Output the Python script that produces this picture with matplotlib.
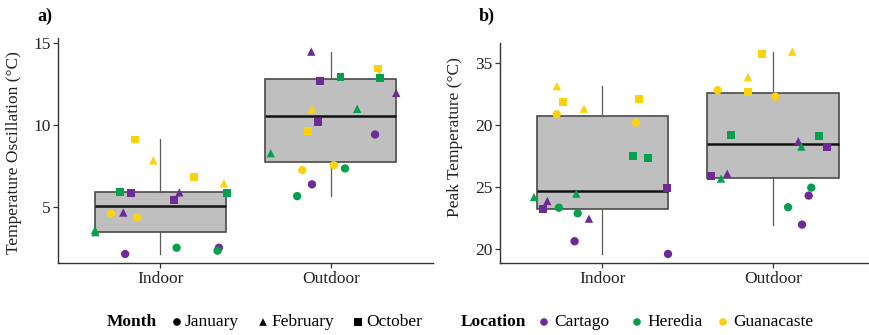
import matplotlib
matplotlib.use("Agg")
import matplotlib.pyplot as plt
import numpy as np

plt.rcParams['font.family'] = ['Liberation Serif', 'DejaVu Serif']

# ---- data -------------------------------------------------------------
categories = ["Indoor", "Outdoor"]
locations = ["Cartago", "Heredia", "Guanacaste"]
months = ["January", "February", "October"]

# panel a: temperature oscillation (°C)
osc_indoor_loc = ["H", "H", "C", "H", "C", "G", "C", "G", "G", "G", "C", "C", "H", "G", "C", "H", "G", "H"]
osc_indoor_mon = ["Feb", "Feb", "Jan", "Oct", "Oct", "Jan", "Feb", "Jan", "Oct", "Feb", "Oct", "Feb", "Jan", "Oct", "Jan", "Jan", "Feb", "Oct"]
osc_indoor_val = [3.58, 3.45, 2.12, 5.92, 5.85, 4.57, 4.65, 4.35, 9.11, 7.83, 5.43, 5.88, 2.50, 6.83, 2.50, 2.32, 6.43, 5.85]
osc_indoor_jit = [-0.383, -0.380, -0.206, -0.236, -0.173, -0.289, -0.217, -0.136, -0.147, -0.041, 0.080, 0.112, 0.096, 0.200, 0.344, 0.336, 0.373, 0.391]

osc_outdoor_loc = ["C", "G", "G", "H", "H", "C", "C", "G", "H", "C", "G", "C", "H", "G", "G", "H", "C", "H"]
osc_outdoor_mon = ["Feb", "Oct", "Feb", "Oct", "Oct", "Oct", "Feb", "Feb", "Feb", "Oct", "Oct", "Jan", "Feb", "Jan", "Jan", "Jan", "Jan", "Jan"]
osc_outdoor_val = [14.47, 13.44, 13.10, 12.93, 12.87, 12.66, 11.95, 10.98, 10.98, 10.15, 9.62, 9.41, 8.27, 7.24, 7.54, 7.34, 6.37, 5.65]
osc_outdoor_jit = [-0.114, 0.276, 0.285, 0.057, 0.289, -0.063, 0.384, -0.110, 0.155, -0.073, -0.134, 0.260, -0.352, -0.167, 0.018, 0.084, -0.110, -0.197]

# panel b: peak temperature (°C)
peak_indoor_loc = ["H", "C", "C", "H", "C", "H", "H", "C", "G", "G", "G", "G", "G", "G", "H", "H", "C", "C"]
peak_indoor_mon = ["Feb", "Oct", "Feb", "Jan", "Jan", "Jan", "Feb", "Feb", "Feb", "Oct", "Jan", "Feb", "Oct", "Jan", "Oct", "Oct", "Oct", "Jan"]
peak_indoor_val = [24.20, 23.24, 23.88, 23.34, 20.64, 22.89, 24.47, 22.46, 33.10, 31.86, 30.85, 31.30, 32.08, 30.18, 27.50, 27.34, 24.95, 19.62]
peak_indoor_jit = [-0.401, -0.347, -0.323, -0.255, -0.163, -0.145, -0.153, -0.079, -0.267, -0.230, -0.268, -0.108, 0.214, 0.196, 0.177, 0.268, 0.376, 0.384]

peak_outdoor_loc = ["G", "G", "G", "G", "G", "G", "H", "H", "C", "H", "C", "C", "C", "H", "H", "C", "H", "C"]
peak_outdoor_mon = ["Oct", "Feb", "Feb", "Jan", "Oct", "Jan", "Oct", "Oct", "Feb", "Feb", "Oct", "Oct", "Feb", "Feb", "Jan", "Jan", "Jan", "Jan"]
peak_outdoor_val = [35.67, 35.88, 33.83, 32.78, 32.67, 32.27, 29.21, 29.11, 28.68, 28.25, 28.25, 25.92, 26.08, 25.68, 24.95, 24.31, 23.38, 21.98]
peak_outdoor_jit = [-0.066, 0.112, -0.148, -0.325, -0.148, 0.012, -0.249, 0.270, 0.147, 0.165, 0.313, -0.366, -0.269, -0.306, 0.223, 0.208, 0.087, 0.169]

peak_ticks = [20, 25, 30, 35]
peak_ticklabels = ["20", "25", "20", "35"]
osc_ticks = [5, 10, 15]

# ---- styles -----------------------------------------------------------
loc_colors = {"C": "#6e2a96", "H": "#05a04e", "G": "#fbd20c"}
mon_markers = {"Jan": "o", "Feb": "^", "Oct": "s"}
mon_sizes = {"Jan": 36, "Feb": 36, "Oct": 32}
SPINE = "#333333"
FS = 12.5


def draw_panel(ax, groups, ylim, yticks, yticklabels, ylabel, xlim):
    data = [g[2] for g in groups]
    bp = ax.boxplot(data, positions=[0, 1], widths=0.77, patch_artist=True,
                    showfliers=False, showcaps=False, whis=1.5, zorder=1)
    for b in bp["boxes"]:
        b.set(facecolor="#bfbfbf", edgecolor="#4a4a4a", linewidth=1.2)
    for w in bp["whiskers"]:
        w.set(color="#5a5a5a", linewidth=0.9)
    for m in bp["medians"]:
        m.set(color="#111111", linewidth=1.8)
    for i, (locs, mons, vals, jit) in enumerate(groups):
        for l, mo, v, j in zip(locs, mons, vals, jit):
            ax.scatter(i + j, v, marker=mon_markers[mo], s=mon_sizes[mo],
                       color=loc_colors[l], edgecolors="none", zorder=3)
    ax.set_xlim(*xlim)
    ax.set_ylim(*ylim)
    ax.set_xticks([0, 1])
    ax.set_xticklabels(categories)
    ax.set_yticks(yticks)
    ax.set_yticklabels(yticklabels)
    ax.set_ylabel(ylabel, fontsize=FS, color="#222222")
    for s in ("top", "right"):
        ax.spines[s].set_visible(False)
    for s in ("left", "bottom"):
        ax.spines[s].set_color(SPINE)
        ax.spines[s].set_linewidth(1.0)
    ax.tick_params(axis="both", length=3.5, width=0.9, color=SPINE,
                   labelsize=FS, labelcolor="#222222", pad=2)
    ax.set_facecolor("none")


fig = plt.figure(figsize=(8.7, 3.35), dpi=100)
W, H = 870, 335

ax_a = fig.add_axes([58 / W, (H - 263) / H, (433 - 58) / W, (263 - 38) / H])
draw_panel(ax_a,
           [(osc_indoor_loc, osc_indoor_mon, osc_indoor_val, osc_indoor_jit),
            (osc_outdoor_loc, osc_outdoor_mon, osc_outdoor_val, osc_outdoor_jit)],
           (1.57, 15.3), osc_ticks, [str(t) for t in osc_ticks],
           "Temperature Oscillation (°C)", (-0.6, 1.6))
ax_a.yaxis.set_label_coords(-0.096, 0.49)

ax_b = fig.add_axes([500 / W, (H - 263.3) / H, (870 - 500) / W, (263.3 - 42.7) / H])
draw_panel(ax_b,
           [(peak_indoor_loc, peak_indoor_mon, peak_indoor_val, peak_indoor_jit),
            (peak_outdoor_loc, peak_outdoor_mon, peak_outdoor_val, peak_outdoor_jit)],
           (18.87, 36.6), peak_ticks, peak_ticklabels,
           "Peak Temperature (°C)", (-0.6, 1.567))
ax_b.yaxis.set_label_coords(-0.1, 0.57)

fig.text(45 / W, 1 - 16 / H, "a)", fontsize=13, fontweight="bold",
         ha="center", va="center")
fig.text(487 / W, 1 - 16 / H, "b)", fontsize=13, fontweight="bold",
         ha="center", va="center")

# ---- legend row -------------------------------------------------------
leg = fig.add_axes([0, 0, 1, 0.09])
leg.set_xlim(0, W)
leg.set_ylim(H, H - 0.09 * H)
leg.axis("off")
ly = 322
leg.text(107, ly, "Month", fontsize=FS, fontweight="bold", va="center", ha="left")
for mk, lab, x in [("o", "January", 177), ("^", "February", 263), ("s", "October", 358)]:
    leg.scatter(x, ly, marker=mk, s=30, color="black", edgecolors="none")
    leg.text(x + 8, ly, lab, fontsize=FS, va="center", ha="left")
leg.text(461, ly, "Location", fontsize=FS, fontweight="bold", va="center", ha="left")
for key, lab, x in [("C", "Cartago", 544), ("H", "Heredia", 637), ("G", "Guanacaste", 723)]:
    leg.scatter(x, ly, marker="o", s=30, color=loc_colors[key], edgecolors="none")
    leg.text(x + 10, ly, lab, fontsize=FS, va="center", ha="left")

fig.savefig("out.png", dpi=100)
